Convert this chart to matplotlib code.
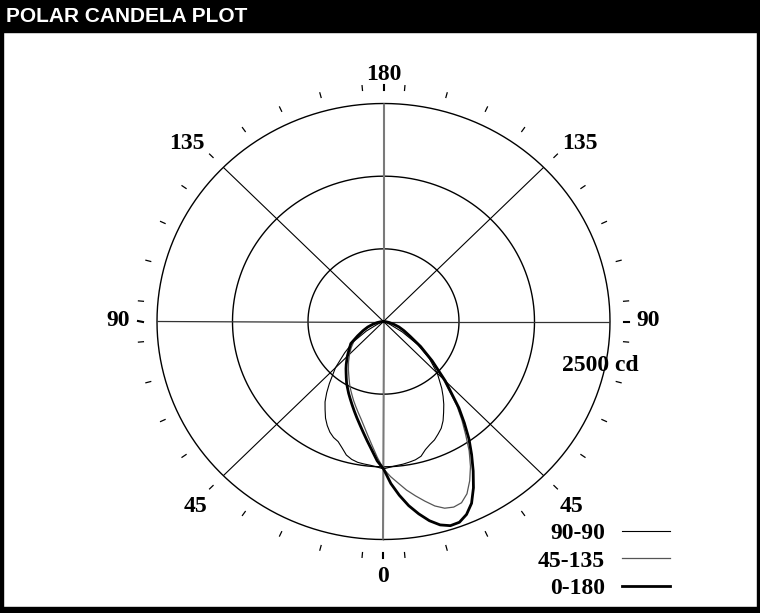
import numpy as np
import matplotlib
matplotlib.use('Agg')
import matplotlib.pyplot as plt
from matplotlib.patches import Rectangle

# ---------------- data (candela vs. vertical angle from nadir) ----------------
angles = [0, 2.5, 5, 7.5, 10, 12.5, 15, 17.5, 20, 22.5, 25, 27.5, 30, 32.5, 35, 37.5, 40,
          45, 50, 55, 60, 65, 70, 75, 80, 85, 90]

# 0-180 plane (0 side drawn on the right, 180 side on the left)
cd_0 = [1690, 1860, 2000, 2130, 2240, 2340, 2415, 2455, 2450, 2395, 2300, 2150, 1980, 1810, 1645, 1465, 1295,
        965, 700, 500, 340, 250, 180, 110, 60, 25, 0]
cd_180 = [1690, 1600, 1480, 1380, 1290, 1210, 1140, 1075, 1015, 960, 910, 860, 815, 765, 720, 680, 640,
          565, 495, 440, 330, 250, 185, 120, 70, 30, 0]

# 45-135 plane
cd_45 = [1690, 1780, 1860, 1950, 2030, 2110, 2190, 2245, 2265, 2250, 2180, 2060, 1920, 1760, 1580, 1420, 1260,
         930, 680, 480, 330, 240, 170, 105, 55, 20, 0]
cd_135 = [1690, 1560, 1430, 1320, 1225, 1145, 1080, 1020, 965, 910, 860, 810, 760, 715, 675, 635, 600,
          530, 465, 400, 310, 230, 170, 110, 60, 25, 0]

# 90-90 plane
cd_90r = [1690, 1672, 1658, 1650, 1638, 1625, 1600, 1540, 1500, 1470, 1425, 1380, 1315, 1235, 1160, 1080, 1000,
          840, 660, 460, 240, 80, 20, 0, 0, 0, 0]
cd_90l = [1690, 1670, 1655, 1648, 1640, 1620, 1585, 1520, 1465, 1440, 1400, 1345, 1280, 1200, 1125, 1030, 930,
          750, 560, 410, 220, 70, 20, 0, 0, 0, 0]

series_names = ['90-90', '45-135', '0-180']
ring_values = [2500 / 3, 2 * 2500 / 3, 2500]
r_max = 2500
spoke_angles = [0, 45, 90, 135, 180, 225, 270, 315]
label_angles = [0, 45, 90, 135, 180]
label_texts = ['0', '45', '90', '135', '180']
tick_angles = [0, 5, 15, 25, 35, 45, 55, 65, 75, 85, 90, 95, 105, 115, 125, 135, 145, 155, 165, 175, 180]
scale_label = '2500 cd'
title = 'POLAR CANDELA PLOT'

# ---------------- figure ----------------
W, H = 760, 613
fig = plt.figure(figsize=(W / 100, H / 100), dpi=100)
fig.patch.set_facecolor('white')

cx, cy = 383.5, 321.5
rx, ry = 226.5, 218.0
ax = fig.add_axes([(cx - rx) / W, (H - cy - ry) / H, 2 * rx / W, 2 * ry / H], projection='polar')
ax.set_aspect('auto')
ax.set_theta_zero_location('S')
ax.set_theta_direction(1)
ax.set_rlim(0, r_max)
ax.grid(False)
ax.set_xticks([])
ax.set_yticks([])
ax.spines['polar'].set_visible(False)
ax.patch.set_alpha(0)

full = np.radians(np.linspace(0, 360, 721))
for rv in ring_values:
    ax.plot(full, np.full_like(full, rv), color='black', lw=1.0, zorder=1, clip_on=False)

for a in spoke_angles:
    t = np.radians(a)
    if a in (0, 180):
        ax.plot([t, t], [0, r_max], color='#7a7a7a', lw=1.5, zorder=1)
    elif a in (90, 270):
        ax.plot([t, t], [0, r_max], color='#333333', lw=0.9, zorder=1)
    else:
        ax.plot([t, t], [0, r_max], color='black', lw=0.8, zorder=1)

# tick marks outside the outer ring
for a in tick_angles:
    sides = [a] if a in (0, 180) else [a, -a]
    for s in sides:
        t = np.radians(s)
        lw = 1.5 if a in (0, 90, 180) else 0.9
        ax.plot([t, t], [2660, 2715], color='black', lw=lw, clip_on=False)

lab_font = dict(family='Liberation Serif', weight='bold', size=17)
# (radius, angular nudge) for the angle labels
label_pos = {0: (2925, 0), 45: (2968, -0.5), 90: (2926, 0.3), 135: (2983, -1.7), 180: (2835, 0)}
for a, s in zip(label_angles, label_texts):
    rr, da = label_pos[a]
    sides = [a] if a in (0, 180) else [a, -a]
    for sd in sides:
        sign = 1 if sd >= 0 else -1
        ax.text(np.radians(sd + sign * da), rr, s, ha='center', va='center', clip_on=False, **lab_font)

ax.text(np.radians(78.2), 2442, scale_label, ha='center', va='center', clip_on=False, **lab_font)


def mirror(left, right):
    th = np.radians(np.concatenate([-np.array(angles[::-1]), np.array(angles[1:])]))
    r = np.concatenate([np.array(left[::-1]), np.array(right[1:])])
    return th, r


th, r = mirror(cd_90l, cd_90r)
l90, = ax.plot(th, r, color='black', lw=0.8, zorder=3)
th, r = mirror(cd_135, cd_45)
l45, = ax.plot(th, r, color='#555555', lw=0.9, zorder=3)
th, r = mirror(cd_180, cd_0)
l0, = ax.plot(th, r, color='black', lw=2.0, zorder=4)

leg = ax.legend([l90, l45, l0], series_names, loc='lower right', frameon=False,
                bbox_to_anchor=(670 / W, 14 / H), bbox_transform=fig.transFigure,
                markerfirst=False, alignment='right', borderpad=0, borderaxespad=0,
                handlelength=2.03, handletextpad=0.72, labelspacing=0.25, prop=lab_font)

# frame and title bar
fig.add_artist(Rectangle((0, 1 - 32 / H), 1, 32 / H, transform=fig.transFigure, color='black', zorder=10))
fig.add_artist(Rectangle((0, 0), 3 / W, 1, transform=fig.transFigure, color='black', zorder=10))
fig.add_artist(Rectangle((1 - 3 / W, 0), 3 / W, 1, transform=fig.transFigure, color='black', zorder=10))
fig.add_artist(Rectangle((0, 0), 1, 6 / H, transform=fig.transFigure, color='black', zorder=10))
fig.text(6 / W, 1 - 16 / H, title, color='white', ha='left', va='center', family='Liberation Sans',
         weight='bold', size=15, zorder=11)

fig.savefig('out.png', dpi=100)
